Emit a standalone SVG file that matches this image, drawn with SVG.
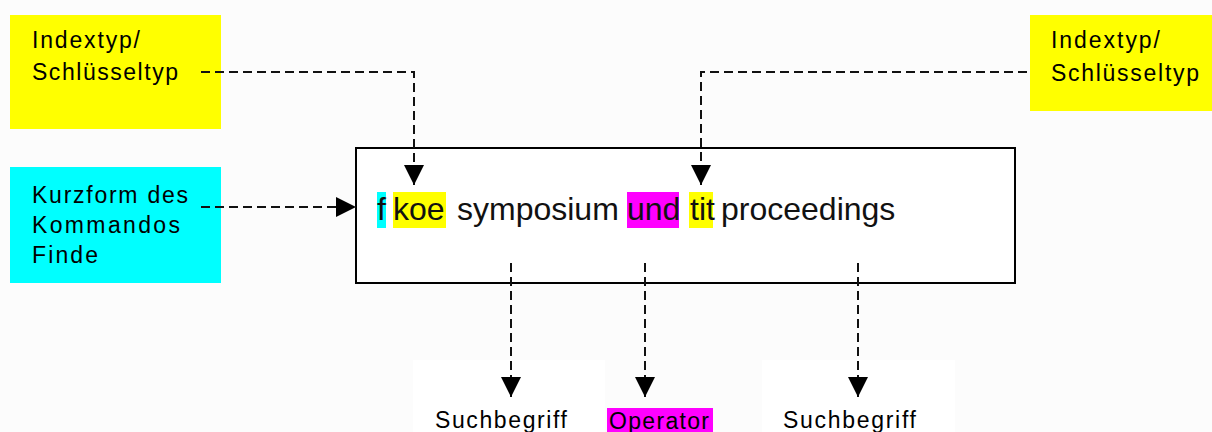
<svg xmlns="http://www.w3.org/2000/svg" width="1212" height="432" viewBox="0 0 1212 432">
  <style>
    .lbl { font-family: "Liberation Sans", Arial, sans-serif; font-size: 23px; fill: #000; }
    .cmd { font-family: "Liberation Sans", Arial, sans-serif; font-size: 32px; fill: #111; }
    .dash { fill: none; stroke: #111; stroke-width: 2; stroke-dasharray: 9 5; }
  </style>
  <defs>
    <marker id="arrow" viewBox="0 0 20 20" refX="20" refY="10" markerWidth="20" markerHeight="20" markerUnits="userSpaceOnUse" orient="auto">
      <path d="M0,0 L20,10 L0,20 Z" fill="#000"/>
    </marker>
  </defs>

  <rect x="0" y="0" width="1212" height="432" fill="#fcfcfc"/>

  <!-- index type label, left -->
  <g id="indextyp-left">
    <rect x="10" y="15" width="211" height="114" fill="#ffff00"/>
    <text class="lbl" x="32" y="48" textLength="108" lengthAdjust="spacing">Indextyp/</text>
    <text class="lbl" x="32" y="80" textLength="146" lengthAdjust="spacing">Schlüsseltyp</text>
  </g>

  <!-- index type label, right -->
  <g id="indextyp-right">
    <rect x="1030" y="15" width="182" height="96" fill="#ffff00"/>
    <text class="lbl" x="1051" y="48" textLength="109" lengthAdjust="spacing">Indextyp/</text>
    <text class="lbl" x="1051" y="81" textLength="148" lengthAdjust="spacing">Schlüsseltyp</text>
  </g>

  <!-- short command form -->
  <g id="kurzform">
    <rect x="10" y="167" width="211" height="116" fill="#00ffff"/>
    <text class="lbl" x="32" y="203" textLength="156" lengthAdjust="spacing">Kurzform des</text>
    <text class="lbl" x="32" y="233" textLength="148" lengthAdjust="spacing">Kommandos</text>
    <text class="lbl" x="32" y="263" textLength="66" lengthAdjust="spacing">Finde</text>
  </g>

  <!-- command line -->
  <g id="command">
    <rect x="356" y="148" width="659" height="135" fill="#fff" stroke="#000" stroke-width="2"/>
    <rect x="377" y="192" width="9" height="36" fill="#00ffff"/>
    <rect x="393" y="192" width="53" height="36" fill="#ffff00"/>
    <rect x="627" y="192" width="52" height="36" fill="#ff00ff"/>
    <rect x="689" y="192" width="24" height="36" fill="#ffff00"/>
    <text class="cmd" y="220"><tspan x="377">f</tspan><tspan x="393">koe</tspan><tspan x="457">symposium</tspan><tspan x="627">und</tspan><tspan x="690">tit</tspan><tspan x="721">proceedings</tspan></text>
  </g>

  <!-- result labels -->
  <g id="suchbegriff-1">
    <rect x="413" y="360" width="192" height="72" fill="#ffffff"/>
    <text class="lbl" x="435" y="428" textLength="132" lengthAdjust="spacing">Suchbegriff</text>
  </g>
  <g id="operator">
    <rect x="607" y="408" width="106" height="24" fill="#ff00ff"/>
    <text class="lbl" x="609" y="429" textLength="100" lengthAdjust="spacing">Operator</text>
  </g>
  <g id="suchbegriff-2">
    <rect x="762" y="360" width="193" height="72" fill="#ffffff"/>
    <text class="lbl" x="783" y="428" textLength="133" lengthAdjust="spacing">Suchbegriff</text>
  </g>

  <!-- connectors -->
  <g id="connectors">
    <path class="dash" d="M201,72 H414 V185" marker-end="url(#arrow)"/>
    <path class="dash" d="M1027,72 H701 V185" marker-end="url(#arrow)"/>
    <path class="dash" d="M201,207 H356" marker-end="url(#arrow)"/>
    <path class="dash" d="M511,263 V397" marker-end="url(#arrow)"/>
    <path class="dash" d="M645,263 V397" marker-end="url(#arrow)"/>
    <path class="dash" d="M858,263 V397" marker-end="url(#arrow)"/>
  </g>
</svg>
